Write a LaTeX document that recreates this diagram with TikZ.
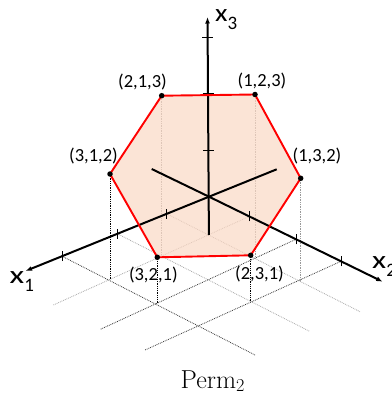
\documentclass[tikz,border=0pt]{standalone}
\usepackage{fontspec}
\newfontfamily\labfont{Carlito}
\usetikzlibrary{arrows.meta,calc}
\definecolor{peach}{RGB}{250,216,196}
\newcommand\axsub[1]{\raisebox{-8.3pt}{\fontsize{19}{19}\selectfont #1}}
\begin{document}
\begin{tikzpicture}[x=1pt,y=-1pt,
  axisline/.style={line width=2pt,-{Latex[length=6.5pt,width=5pt]}},
  negaxis/.style={line width=2pt},
  tickmark/.style={line width=0.8pt},
  gridD/.style={line width=0.8pt,densely dotted,black!80},
  gridL/.style={line width=0.8pt,densely dotted,black!35},
  dropD/.style={line width=0.8pt,densely dotted,black},
  dropL/.style={line width=0.7pt,densely dotted,black!40},
  hexfill/.style={fill=peach,fill opacity=0.7},
  hexedge/.style={draw=red,line width=1.9pt,line join=round},
  vdot/.style={circle,fill=black,inner sep=0pt,minimum size=5.5pt},
  lbl/.style={font=\labfont\fontsize{18.5}{19}\selectfont,inner sep=0pt},
  axl/.style={font=\labfont\fontsize{25}{28}\selectfont,inner sep=0pt,anchor=base west}
]
\useasboundingbox (0,0) rectangle (391,395);

% axes geometry
\coordinate (O) at (209,196.7);
\coordinate (x1n) at (276.7,169.3);
\coordinate (x1t) at (25.5,271);
\coordinate (x2n) at (151.7,169);
\coordinate (x2t) at (382.7,281.7);
\coordinate (x3n) at (208.9,235);
\coordinate (x3t) at (207.5,17);

% ticks
\coordinate (a1) at ($(O)!0.2304!(x1t)$);
\coordinate (a2) at ($(O)!0.4992!(x1t)$);
\coordinate (a3) at ($(O)!0.8009!(x1t)$);
\coordinate (b1) at ($(O)!0.232!(x2t)$);
\coordinate (b2) at ($(O)!0.501!(x2t)$);
\coordinate (b3) at ($(O)!0.760!(x2t)$);
\coordinate (c1) at (208.7,150);
\coordinate (c2) at (208.2,93.5);
\coordinate (c3) at (207.7,37);

% grid end points
\coordinate (g1e) at (360,311.7);
\coordinate (g2e) at (310,331.5);
\coordinate (g3e) at (255,355);
\coordinate (h1e) at (53.3,305);
\coordinate (h2e) at (100,329.5);
\coordinate (h3e) at (145,350);

% hexagon vertices
\coordinate (v213) at (161.7,95.7);
\coordinate (v123) at (255,94.5);
\coordinate (v132) at (300.7,178.3);
\coordinate (v231) at (250.7,255.3);
\coordinate (v321) at (157.3,257.3);
\coordinate (v312) at (110,174);

% feet on the floor
\coordinate (f31) at (intersection of a3--g3e and b1--h1e);
\coordinate (f21) at (intersection of a2--g2e and b1--h1e);
\coordinate (f12) at (intersection of a1--g1e and b2--h2e);
\coordinate (f13) at (intersection of a1--g1e and b3--h3e);
\coordinate (f32) at (intersection of a3--g3e and b2--h2e);
\coordinate (f23) at (intersection of a2--g2e and b3--h3e);

% floor grid
\draw[gridL] (a1) -- (g1e);
\draw[gridL] (a2) -- (g2e);
\draw[gridD] (a3) -- (g3e);
\draw[gridL] (b1) -- (h1e);
\draw[gridD] (b2) -- (h2e);
\draw[gridD] (b3) -- (h3e);

% drops
\draw[dropD] (v312) -- (v312 |- f31);
\draw[dropL] (v213) -- (v213 |- f21);
\draw[dropL] (v123) -- (v123 |- f12);
\draw[dropL] (v132) -- (v132 |- f13);
\draw[dropD] (v321) -- (v321 |- f32);
\draw[dropD] (v231) -- (v231 |- f23);

% hexagon fill
\fill[hexfill] (v213) -- (v123) -- (v132) -- (v231) -- (v321) -- (v312) -- cycle;

% axes
\draw[negaxis] (x1n) -- (O);
\draw[axisline] (O) -- (x1t);
\draw[negaxis] (x2n) -- (O);
\draw[axisline] (O) -- (x2t);
\draw[axisline] (x3n) -- (x3t);

% ticks
\foreach \t in {a1,a2,a3,b1,b2,b3}
  \draw[tickmark] ([yshift=-5pt]\t) -- ([yshift=5pt]\t);
\foreach \t in {c1,c2,c3}
  \draw[tickmark] ([xshift=-5.5pt]\t) -- ([xshift=5.5pt]\t);

% hexagon edge
\draw[hexedge] (v213) -- (v123) -- (v132) -- (v231) -- (v321) -- (v312) -- cycle;

% vertex dots
\foreach \v in {v213,v123,v132,v231,v321,v312}
  \node[vdot] (d\v) at (\v) {};

% labels
\node[lbl] (l213) at (142.5,82.5) {(2,1,3)};
\node[lbl] (l123) at (262,81.5) {(1,2,3)};
\node[lbl] (l132) at (317,156.5) {(1,3,2)};
\node[lbl] (l312) at (93.5,156.5) {(3,1,2)};
\node[lbl] (l321) at (153.3,274.8) {(3,2,1)};
\node[lbl] (l231) at (259.5,274.2) {(2,3,1)};

\node[axl] (lx3) at (215,21.5) {\scalebox{1.15}[1]{x}\axsub{3}};
\node[axl] (lx1) at (9.5,283.3) {\scalebox{1.35}[1]{x}\axsub{1}};
\node[axl] (lx2) at (372,268.3) {\scalebox{1.3}[1]{x}\axsub{2}};

\node[anchor=base west,inner sep=0pt] (title) at (180.5,388)
  {\fontsize{26}{30}\selectfont Perm\raisebox{-3.9pt}{\fontsize{18.2}{20}\selectfont 2}};
\end{tikzpicture}
\end{document}
